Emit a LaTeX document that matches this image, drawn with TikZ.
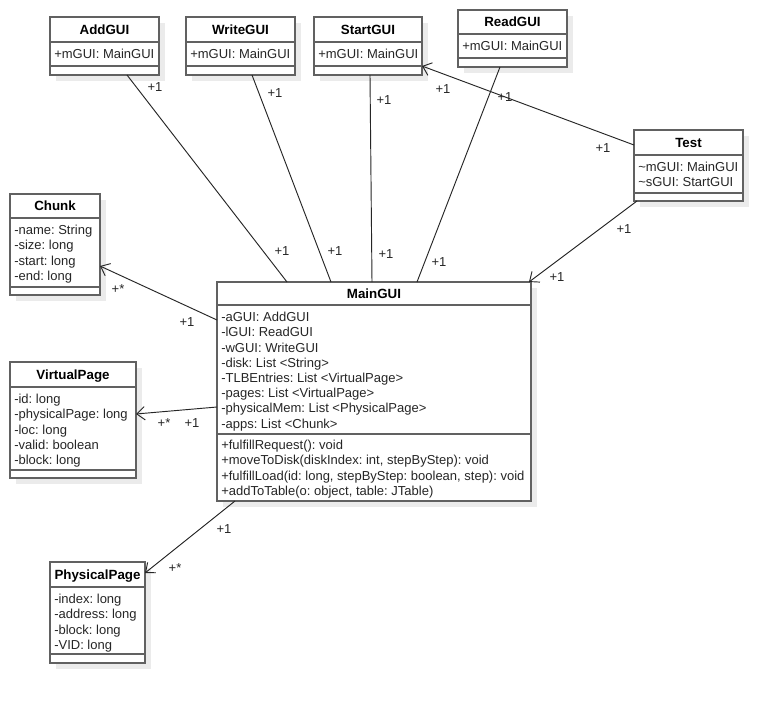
\documentclass[tikz,border=0pt]{standalone}
\usepackage{fontspec}
\setmainfont{Liberation Sans}
\usetikzlibrary{arrows.meta, calc, fit, shadows}
\frenchspacing

\tikzset{
  classbox/.style  = {rectangle, draw=black!62, line width=1.5pt, fill=white,
                      inner sep=0pt, outer sep=0pt,
                      drop shadow={fill=black!8, opacity=1,
                                   shadow xshift=4.5pt, shadow yshift=-4.5pt}},
  classsep/.style  = {draw=black!62, line width=1.5pt},
  classname/.style = {font=\bfseries, anchor=base, inner sep=0pt},
  classattr/.style = {anchor=north west, align=left, inner sep=0pt, text=black!85},
  assoc/.style     = {draw=black!85, line width=0.7pt},
  nav/.style       = {assoc, -{Straight Barb[length=6pt, width=10pt]}},
  mult/.style      = {inner sep=0pt, text=black!85}
}

% #1 name, #2 left, #3 top, #4 right, #5 bottom,
% #6 title rule, #7 attribute rule, #8 title, #9 attributes
\newcommand\umlclass[9]{%
  \node[classbox, fit={(#2,#3) (#4,#5)}] (#1) {};
  \draw[classsep] (#2,#6) -- (#4,#6);
  \draw[classsep] (#2,#7) -- (#4,#7);
  \node[classname] (#1-name) at ({(#2+#4)/2},{(#3+#6)/2+4.6}) {#8};
  \node[classattr] (#1-attr) at (#2+4,#6+5.7) {\strut#9};
}

\begin{document}
\begin{tikzpicture}[x=0.75pt, y=-0.75pt, font=\fontsize{9.75}{11.4}\selectfont]
\useasboundingbox[fill=white] (0,0) rectangle (783,704);

%% -- GUI classes (top row) --------------------------------------
\umlclass{addgui}{50}{17}{159}{75}{42}{66}{AddGUI}{+mGUI: MainGUI}
\umlclass{writegui}{186}{17}{295}{75}{42}{66}{WriteGUI}{+mGUI: MainGUI}
\umlclass{startgui}{314}{17}{422}{75}{42}{66}{StartGUI}{+mGUI: MainGUI}
\umlclass{readgui}{458}{10}{567}{67}{34}{58}{ReadGUI}{+mGUI: MainGUI}
\umlclass{test}{634}{130}{743}{201}{155}{193}{Test}%
  {\textasciitilde mGUI: MainGUI\\\textasciitilde sGUI: StartGUI}

%% -- data classes (left column) ---------------------------------
\umlclass{chunk}{10}{194}{100}{295}{218}{287}{Chunk}%
  {-name: String\\-size: long\\-start: long\\-end: long}
\umlclass{virtualpage}{10}{362}{136}{478}{387}{470}{VirtualPage}%
  {-id: long\\-physicalPage: long\\-loc: long\\-valid: boolean\\-block: long}
\umlclass{physicalpage}{50}{562}{145}{663}{587}{654}{PhysicalPage}%
  {-index: long\\-address: long\\-block: long\\-VID: long}

%% -- MainGUI ----------------------------------------------------
\umlclass{maingui}{217}{282}{531}{501}{305}{434}{MainGUI}%
  {-aGUI: AddGUI\\-lGUI: ReadGUI\\-wGUI: WriteGUI\\-disk: List <String>\\
   -TLBEntries: List <VirtualPage>\\-pages: List <VirtualPage>\\
   -physicalMem: List <PhysicalPage>\\-apps: List <Chunk>}
\node[classattr] (maingui-ops) at (221,438.7)
  {\strut+fulfillRequest(): void\\+moveToDisk(diskIndex: int, stepByStep): void\\
   +fulfillLoad(id: long, stepByStep: boolean, step): void\\
   +addToTable(o: object, table: JTable)};

%% -- associations -----------------------------------------------
\draw[assoc] ($(addgui.south west)+(77,0)$)   -- ($(maingui.north west)+(70,0)$);
\draw[assoc] ($(writegui.south west)+(66,0)$) -- ($(maingui.north west)+(114,0)$);
\draw[assoc] ($(startgui.south west)+(56,0)$) -- ($(maingui.north west)+(155,0)$);
\draw[assoc] ($(readgui.south west)+(42,0)$)  -- ($(maingui.north west)+(200,0)$);
\draw[nav]   ($(test.north west)+(0,15)$)     -- ($(startgui.south east)+(0,-9)$);
\draw[nav]   ($(test.south west)+(3,0)$)      -- ($(maingui.north east)+(-2,0)$);
\draw[nav]   ($(maingui.north west)+(0,38)$)  -- ($(chunk.north east)+(0,72)$);
\draw[nav]   ($(maingui.north west)+(0,125)$) -- ($(virtualpage.north east)+(0,52)$);
\draw[nav]   ($(maingui.south west)+(18,0)$)  -- ($(physicalpage.north east)+(0,11)$);

%% -- multiplicities ---------------------------------------------
\node[mult] (m-add-a)   at (155,87)  {+1};
\node[mult] (m-add-b)   at (282,251) {+1};
\node[mult] (m-write-a) at (275,93)  {+1};
\node[mult] (m-write-b) at (335,251) {+1};
\node[mult] (m-start-a) at (384,100) {+1};
\node[mult] (m-start-b) at (386,254) {+1};
\node[mult] (m-read-a)  at (505,97)  {+1};
\node[mult] (m-read-b)  at (439,262) {+1};
\node[mult] (m-ts-a)    at (443,89)  {+1};
\node[mult] (m-ts-b)    at (603,148) {+1};
\node[mult] (m-tm-a)    at (624,229) {+1};
\node[mult] (m-tm-b)    at (557,277) {+1};
\node[mult] (m-chunk-a) at (118,289) {+*};
\node[mult] (m-chunk-b) at (187,322) {+1};
\node[mult] (m-vp-a)    at (164,423) {+*};
\node[mult] (m-vp-b)    at (192,423) {+1};
\node[mult] (m-pp-a)    at (224,529) {+1};
\node[mult] (m-pp-b)    at (175,568) {+*};

\end{tikzpicture}
\end{document}
